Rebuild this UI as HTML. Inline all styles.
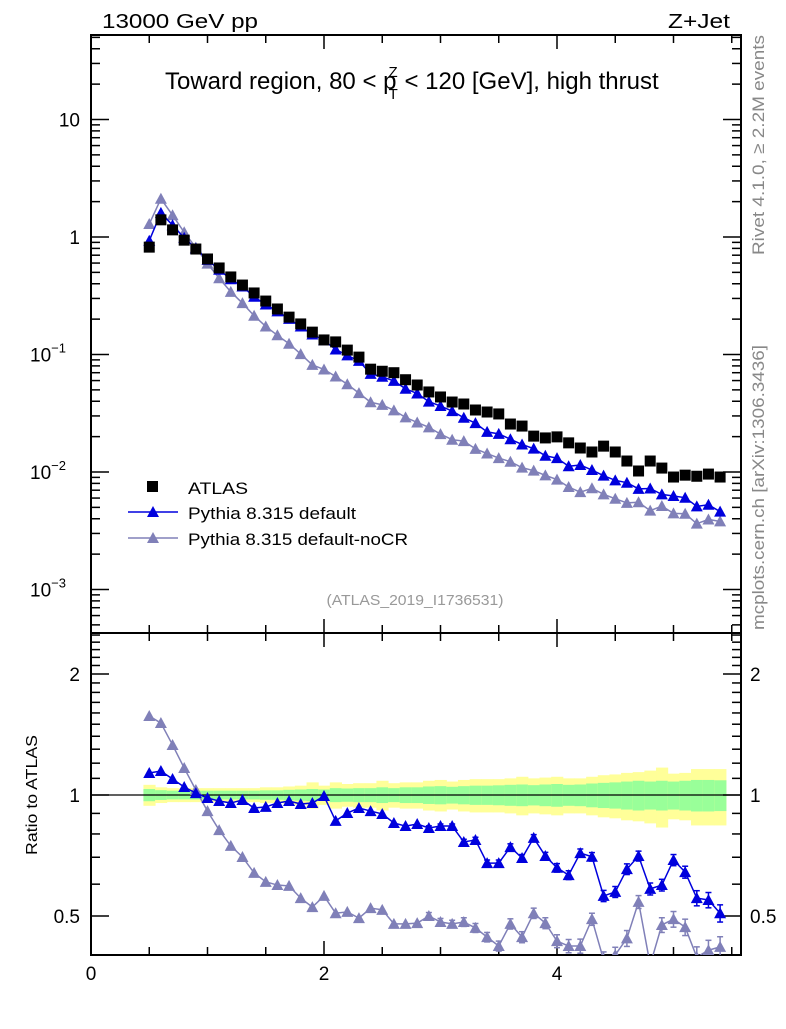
<!DOCTYPE html>
<html><head><meta charset="utf-8"><style>
body{margin:0;background:#fff;width:786px;height:1024px;overflow:hidden}
svg{font-family:"Liberation Sans",sans-serif}
</style></head><body>
<svg id="chart" width="786" height="1024" viewBox="0 0 786 1024" xmlns="http://www.w3.org/2000/svg">
<g id="bands"></g>
<g id="axes"></g>
<g id="series"></g>
<text x="102" y="28" font-size="20" textLength="156" lengthAdjust="spacingAndGlyphs">13000 GeV pp</text>
<text x="668" y="28" font-size="20" textLength="62" lengthAdjust="spacingAndGlyphs">Z+Jet</text>
<text x="165" y="89" font-size="24">Toward region, 80 &lt; p<tspan font-size="15" dx="-8" dy="-12">Z</tspan><tspan font-size="15" dx="-9" dy="22">T</tspan><tspan dy="-10"> &lt; 120 [GeV], high thrust</tspan></text>
<text x="415" y="605" font-size="15" fill="#999" text-anchor="middle" textLength="177" lengthAdjust="spacingAndGlyphs">(ATLAS_2019_I1736531)</text>
<text transform="translate(764,255) rotate(-90)" font-size="17" fill="#888" textLength="220" lengthAdjust="spacingAndGlyphs">Rivet 4.1.0, ≥ 2.2M events</text>
<text transform="translate(764,630) rotate(-90)" font-size="17" fill="#888" textLength="285" lengthAdjust="spacingAndGlyphs">mcplots.cern.ch [arXiv:1306.3436]</text>
<text transform="translate(37,795) rotate(-90)" font-size="16" text-anchor="middle" textLength="120" lengthAdjust="spacingAndGlyphs">Ratio to ATLAS</text>
<g>
<rect x="147" y="481" width="11" height="11" fill="#000"/>
<text x="188" y="494" font-size="17" textLength="60" lengthAdjust="spacingAndGlyphs">ATLAS</text>
<line x1="128" y1="512" x2="178" y2="512" stroke="#0000dd" stroke-width="1.5"/>
<path d="M147,517 L153,506 L159,517 Z" fill="#0000dd"/>
<text x="188" y="519" font-size="17" textLength="168" lengthAdjust="spacingAndGlyphs">Pythia 8.315 default</text>
<line x1="128" y1="538" x2="178" y2="538" stroke="#8080b8" stroke-width="1.5"/>
<path d="M147,543 L153,532 L159,543 Z" fill="#8080b8"/>
<text x="188" y="545" font-size="17" textLength="220" lengthAdjust="spacingAndGlyphs">Pythia 8.315 default-noCR</text>
</g>
</svg>
<script>
const xCenters=[0.5,0.6,0.7,0.8,0.9,1.0,1.1,1.2,1.3,1.4,1.5,1.6,1.7,1.8,1.9,2.0,2.1,2.2,2.3,2.4,2.5,2.6,2.7,2.8,2.9,3.0,3.1,3.2,3.3,3.4,3.5,3.6,3.7,3.8,3.9,4.0,4.1,4.2,4.3,4.4,4.5,4.6,4.7,4.8,4.9,5.0,5.1,5.2,5.3,5.4];
const atlasValues=[0.82,1.40,1.15,0.94,0.79,0.65,0.545,0.457,0.39,0.334,0.285,0.244,0.208,0.182,0.155,0.133,0.128,0.109,0.095,0.075,0.072,0.070,0.061,0.055,0.048,0.0435,0.0394,0.0379,0.0337,0.0324,0.0312,0.0256,0.0246,0.0202,0.0195,0.0199,0.0177,0.016,0.0148,0.0166,0.0148,0.0124,0.0102,0.0124,0.0108,0.00906,0.0094,0.0092,0.0096,0.00906];
const ratioDefault=[1.134,1.147,1.096,1.047,1.011,0.983,0.966,0.955,0.972,0.928,0.934,0.955,0.966,0.95,0.955,0.994,0.862,0.902,0.928,0.912,0.897,0.852,0.837,0.847,0.828,0.837,0.837,0.764,0.773,0.677,0.677,0.742,0.697,0.782,0.705,0.659,0.632,0.717,0.702,0.561,0.574,0.654,0.705,0.584,0.597,0.689,0.643,0.554,0.548,0.508];
const ratioNoCR=[1.572,1.51,1.332,1.167,1.029,0.912,0.818,0.747,0.701,0.64,0.608,0.597,0.594,0.554,0.526,0.561,0.508,0.512,0.494,0.523,0.518,0.478,0.478,0.48,0.5,0.483,0.478,0.483,0.467,0.443,0.421,0.478,0.443,0.508,0.48,0.433,0.421,0.421,0.491,0.389,0.4,0.44,0.542,0.378,0.475,0.491,0.469,0.395,0.411,0.419];
const bandYellow=[0.06,0.045,0.04,0.04,0.04,0.04,0.04,0.04,0.04,0.04,0.045,0.045,0.05,0.055,0.075,0.055,0.075,0.065,0.07,0.07,0.085,0.07,0.075,0.075,0.085,0.09,0.08,0.09,0.095,0.095,0.095,0.1,0.11,0.1,0.105,0.11,0.1,0.1,0.11,0.12,0.125,0.135,0.14,0.15,0.17,0.13,0.135,0.16,0.16,0.16];
const bandGreen=[0.035,0.028,0.025,0.025,0.025,0.025,0.025,0.025,0.025,0.025,0.027,0.027,0.03,0.032,0.035,0.032,0.04,0.038,0.04,0.04,0.045,0.04,0.045,0.045,0.05,0.052,0.048,0.052,0.055,0.055,0.057,0.06,0.062,0.058,0.062,0.065,0.06,0.062,0.068,0.072,0.075,0.08,0.085,0.08,0.085,0.08,0.085,0.09,0.09,0.088];
const ratioErr=[0,0,0,0,0,0,0,0,0,0,0,0,0,0,0,0,0,0,0,0,0,0,0,0,0.01,0.01,0.01,0.012,0.012,0.012,0.012,0.014,0.014,0.015,0.015,0.016,0.016,0.017,0.017,0.018,0.018,0.02,0.02,0.02,0.02,0.022,0.022,0.024,0.024,0.025];
const xTickLabels=["0","2","4"];
const yMainTicks=[10,1,0.1,0.01,0.001];
const yRatioLabels=[0.5,1,2];

const NS="http://www.w3.org/2000/svg";
const L=91,R=741,T=35,MB=633,RB=955;
const X=v=>L+116.5*v;
const Ym=v=>237-117.5*Math.log10(v);
const Yr=v=>795-121*Math.log2(v);
function mk(tag,attrs,parent){const e=document.createElementNS(NS,tag);for(const k in attrs)e.setAttribute(k,attrs[k]);parent.appendChild(e);return e;}
const axes=document.getElementById('axes'),series=document.getElementById('series'),bands=document.getElementById('bands');
const bw=116.5*0.1;
xCenters.forEach((x,i)=>{
  let r=mk('rect',{x:X(x)-bw/2,y:Yr(1+bandYellow[i]),width:bw+0.5,height:Yr(1-bandYellow[i])-Yr(1+bandYellow[i]),fill:'#ffff99'},bands);
  
  
  let g=mk('rect',{x:X(x)-bw/2,y:Yr(1+bandGreen[i]),width:bw+0.5,height:Yr(1-bandGreen[i])-Yr(1+bandGreen[i]),fill:'#99ff99'},bands);
  
  
});
let f1=mk('rect',{x:L,y:T,width:R-L,height:MB-T,fill:'none',stroke:'#000','stroke-width':2},axes);


let f2=mk('rect',{x:L,y:MB,width:R-L,height:RB-MB,fill:'none',stroke:'#000','stroke-width':2},axes);


mk('line',{x1:L,x2:R,y1:Yr(1),y2:Yr(1),stroke:'#000','stroke-width':1.2},axes);
for(let k=0;k<=11;k++){const v=k*0.5;const px=X(v);if(px>R)break;const len=(k%4==0)?14:8;
  [[T,T+len],[MB,MB-len],[MB,MB+len],[RB,RB-len]].forEach(a=>mk('line',{x1:px,x2:px,y1:a[0],y2:a[1],stroke:'#000','stroke-width':1.5},axes));}
xTickLabels.forEach(s=>{const t=mk('text',{x:X(+s),y:980,'font-size':19,'text-anchor':'middle'},axes);t.textContent=s;
  
  });
for(let e=-4;e<=1;e++){for(let m=1;m<=9;m++){const v=m*Math.pow(10,e);const py=Ym(v);if(py<T||py>MB)continue;const len=m==1?18:9;
  mk('line',{x1:L,x2:L+len,y1:py,y2:py,stroke:'#000','stroke-width':1.5},axes);mk('line',{x1:R,x2:R-len,y1:py,y2:py,stroke:'#000','stroke-width':1.5},axes);}}
yMainTicks.forEach(v=>{const py=Ym(v);const t=mk('text',{x:80,y:py+7,'font-size':19,'text-anchor':'end'},axes);
  
  
  const ex=Math.round(Math.log10(v));
  if(ex>=0)t.textContent=String(v);else{t.setAttribute('x',66);t.textContent='10';const s=document.createElementNS(NS,'tspan');s.setAttribute('font-size',13);s.setAttribute('dy',-9);s.textContent='−'+(-ex);t.appendChild(s);}});
for(let k=4;k<=25;k++){const v=k/10;const py=Yr(v);if(py<MB||py>RB)continue;const major=(k==5||k==10||k==20);const len=major?18:9;
  mk('line',{x1:L,x2:L+len,y1:py,y2:py,stroke:'#000','stroke-width':1.5},axes);mk('line',{x1:R,x2:R-len,y1:py,y2:py,stroke:'#000','stroke-width':1.5},axes);}
yRatioLabels.forEach(v=>{const py=Yr(v);[[80,'end'],[750,'start']].forEach(a=>{const t=mk('text',{x:a[0],y:py+7,'font-size':19,'text-anchor':a[1]},axes);t.textContent=String(v);
  
  });});
function tri(px,py,col,name){const p=mk('path',{d:`M${px-6},${py+5} L${px},${py-6} L${px+6},${py+5} Z`,fill:col},series);
  
  }
function drawMC(ratios,col,name){
  let pm=[],pr=[];
  xCenters.forEach((x,i)=>{pm.push(X(x)+','+Ym(atlasValues[i]*ratios[i]));pr.push(X(x)+','+Yr(ratios[i]));});
  const l1=mk('polyline',{points:pm.join(' '),fill:'none',stroke:col,'stroke-width':1.5},series);
  
  
  const cp=mk('clipPath',{id:'clip'+name},series);mk('rect',{x:L,y:MB,width:R-L,height:RB-MB},cp);
  const g=mk('g',{'clip-path':`url(#clip${name})`},series);
  const l2=mk('polyline',{points:pr.join(' '),fill:'none',stroke:col,'stroke-width':1.5},g);
  
  
  xCenters.forEach((x,i)=>{
    tri(X(x),Ym(atlasValues[i]*ratios[i]),col,name+'-point');
    const r=ratios[i],e=ratioErr[i];
    if(e>0){const y1=Yr(r+e),y2=Yr(r-e);mk('line',{x1:X(x),x2:X(x),y1:y1,y2:y2,stroke:col,'stroke-width':1.5},g);
      mk('line',{x1:X(x)-3,x2:X(x)+3,y1:y1,y2:y1,stroke:col,'stroke-width':1.5},g);mk('line',{x1:X(x)-3,x2:X(x)+3,y1:y2,y2:y2,stroke:col,'stroke-width':1.5},g);}
    const p=mk('path',{d:`M${X(x)-6},${Yr(r)+5} L${X(x)},${Yr(r)-6} L${X(x)+6},${Yr(r)+5} Z`,fill:col},g);
    
    
  });
}
drawMC(ratioNoCR,'#8080b8','pythia-nocr');
drawMC(ratioDefault,'#0000dd','pythia-default');
xCenters.forEach((x,i)=>{const r=mk('rect',{x:X(x)-5.5,y:Ym(atlasValues[i])-5.5,width:11,height:11,fill:'#000'},series);
  
  });
</script>
</body></html>
